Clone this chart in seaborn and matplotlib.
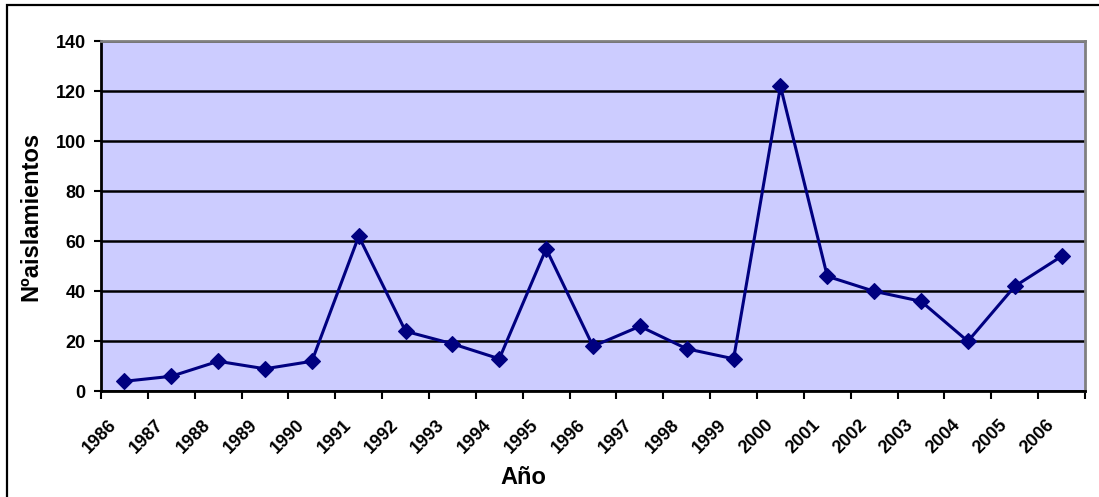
#!/usr/bin/env python3

import numpy as np
import pandas as pd
import matplotlib
matplotlib.use("Agg")
import matplotlib.pyplot as plt
from matplotlib.patches import Rectangle
from matplotlib.transforms import ScaledTranslation
import seaborn as sns

years = ["1986", "1987", "1988", "1989", "1990", "1991", "1992", "1993", "1994",
         "1995", "1996", "1997", "1998", "1999", "2000", "2001", "2002", "2003",
         "2004", "2005", "2006"]
aislamientos = [4, 6, 12, 9, 12, 62, 24, 19, 13, 57, 18, 26, 17, 13, 122, 46,
                40, 36, 20, 42, 54]
y_ticks = [0, 20, 40, 60, 80, 100, 120, 140]

df = pd.DataFrame({"pos": np.arange(len(years)), "Año": years,
                   "n": aislamientos})

sns.set_style("white")
plt.rcParams["font.family"] = ["Liberation Sans", "DejaVu Sans"]
plt.rcParams["font.weight"] = "bold"
plt.rcParams["text.color"] = "black"
plt.rcParams["axes.labelcolor"] = "black"
plt.rcParams["xtick.color"] = "black"
plt.rcParams["ytick.color"] = "black"

fig = plt.figure(figsize=(10.99, 4.97), dpi=100)
ax = fig.add_axes([0.0919, 0.2127, 0.8954, 0.7042])
ax.set_facecolor("#CCCCFF")

# chart-area frame (only left/top visible in the original crop)
fig.patches.append(Rectangle((7 / 1099, -0.5), 2.0, 0.5 + 1 - 5 / 497,
                             transform=fig.transFigure, fill=False,
                             edgecolor="black", linewidth=1.6))

sns.lineplot(data=df, x="pos", y="n", ax=ax, color="#000080", linewidth=2.2,
             marker="D", markersize=8, markeredgecolor="#000080",
             markeredgewidth=0.8)

ax.set_xlim(-0.5, len(years) - 0.5)
ax.set_ylim(0, 140)
ax.set_yticks(y_ticks)
ax.yaxis.grid(True, color="black", linewidth=1.8)
ax.set_axisbelow(True)

# category boundaries get the tick marks, labels sit at category centres
ax.set_xticks(np.arange(len(years) + 1) - 0.5)
ax.set_xticklabels([])
ax.set_xticks(df["pos"], minor=True)
ax.set_xticklabels(years, minor=True, rotation=45, ha="right", va="top",
                   fontsize=13, fontweight="bold")
ax.tick_params(axis="x", which="major", direction="out", length=6, width=1.5,
               color="black", bottom=True)
ax.tick_params(axis="x", which="minor", length=0, pad=18)
ax.tick_params(axis="y", direction="out", length=5, width=1.5, color="black",
               left=True, pad=6, labelsize=13)
for lab in ax.get_yticklabels():
    lab.set_fontweight("bold")
off = ScaledTranslation(-4 / 100, 0, fig.dpi_scale_trans)
for lab in ax.get_xticklabels(minor=True):
    lab.set_transform(lab.get_transform() + off)

for side in ["left", "bottom"]:
    ax.spines[side].set_color("black")
    ax.spines[side].set_linewidth(2)
for side in ["top", "right"]:
    ax.spines[side].set_visible(True)
    ax.spines[side].set_color("#808080")
    ax.spines[side].set_linewidth(2)

ax.set_xlabel("Año", fontsize=17, fontweight="bold", va="center")
ax.xaxis.set_label_coords(0.4294, -0.245)
ax.set_ylabel("Nºaislamientos", fontsize=17, fontweight="bold", va="center")
ax.yaxis.set_label_coords(-0.0711, 0.5)

fig.savefig("out.png", dpi=100)
